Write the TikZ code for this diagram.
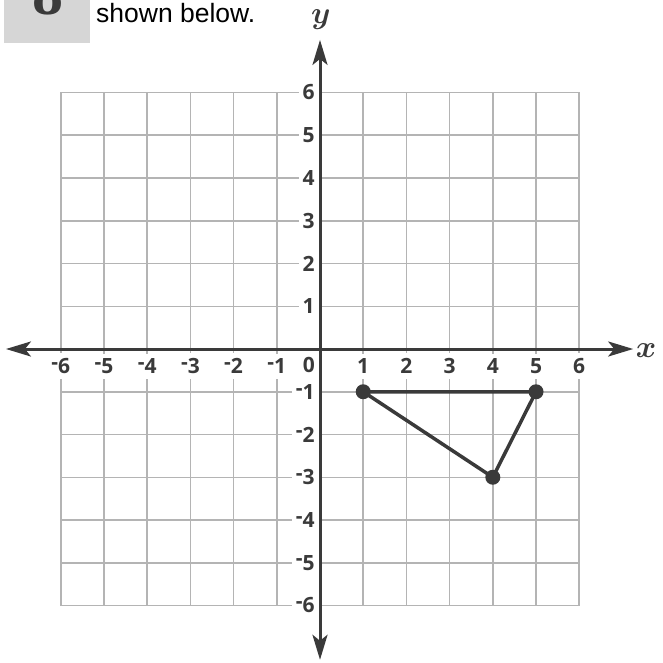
\RequirePackage{fix-cm}
\documentclass[tikz,border=0pt]{standalone}
\usepackage{fontspec}
\usetikzlibrary{arrows.meta}
\newfontfamily\numfnt{Open Sans}
\newfontfamily\introfnt{Liberation Sans}
\newfontfamily\eightfnt{Liberation Serif}
\definecolor{axisgray}{HTML}{3A3A3A}
\definecolor{gridgray}{HTML}{B4B4B4}
\definecolor{boxgray}{HTML}{D6D6D6}
\newcommand\mneg{\raisebox{0.2em}{-}}
\begin{document}
\begin{tikzpicture}[x=1pt,y=-1pt,
  gridline/.style={draw=gridgray, line width=1.5pt},
  axisline/.style={draw=axisgray, line width=3pt,
    arrows={Stealth[length=25pt,width=15pt,inset=6pt]-Stealth[length=25pt,width=15pt,inset=6pt]}},
  lab/.style={fill=white, text=axisgray, font=\numfnt\bfseries\fontsize{21}{21}\selectfont},
  xlab/.style={lab, inner xsep=2pt, inner ysep=5pt},
  ylab/.style={lab, anchor=east, inner xsep=4pt, inner ysep=3pt},
  dot/.style={circle, fill=axisgray, inner sep=0pt, minimum size=15pt},
  tri/.style={draw=axisgray, line width=3.5pt, line join=round},
  axname/.style={text=axisgray, inner sep=0pt, font=\boldmath\fontsize{31}{31}\selectfont}
]
\useasboundingbox (0,0) rectangle (662,663);
\fill[boxgray] (4,-5) rectangle (90,43);
\node[anchor=base, inner sep=0pt, text=axisgray, font=\eightfnt\bfseries\fontsize{62}{62}\selectfont] (num) at (47.5,15) {8};
\node[anchor=base west, inner sep=0pt, font=\introfnt\fontsize{26.5}{27}\selectfont] (intro) at (96,23) {shown below.};
\begin{scope}[shift={(320,349)}, x=43.2pt, y=42.75pt]
  \draw[gridline] (-6,-6) grid[step={(1,1)}] (6,6);
  \foreach \i in {1,...,6} {
    \node[xlab] (xp\i) at (\i,-0.4) {\i};
    \node[xlab] (xn\i) at (-\i,-0.4) {\mneg\i};
    \node[ylab] (yp\i) at (-0.03,\i) {\i};
    \node[ylab] (yn\i) at (-0.03,-\i) {\mneg\i};
  }
  \node[xlab, inner xsep=1pt] (zero) at (-0.26,-0.37) {0};
  \coordinate (xl) at (-7.27,0);
  \coordinate (xr) at (7.25,0);
  \coordinate (yt) at (0,7.23);
  \coordinate (yb) at (0,-7.27);
  \draw[axisline] (xl) -- (xr);
  \draw[axisline] (yb) -- (yt);
  \node[axname] (xname) at (7.55,-0.04) {$x$};
  \node[axname] (yname) at (0.02,7.7) {$y$};
  \node[dot] (A) at (1,-1) {};
  \node[dot] (B) at (5,-1) {};
  \node[dot] (C) at (4,-3) {};
  \draw[tri] (A.center) -- (B.center) -- (C.center) -- cycle;
\end{scope}
\end{tikzpicture}
\end{document}
